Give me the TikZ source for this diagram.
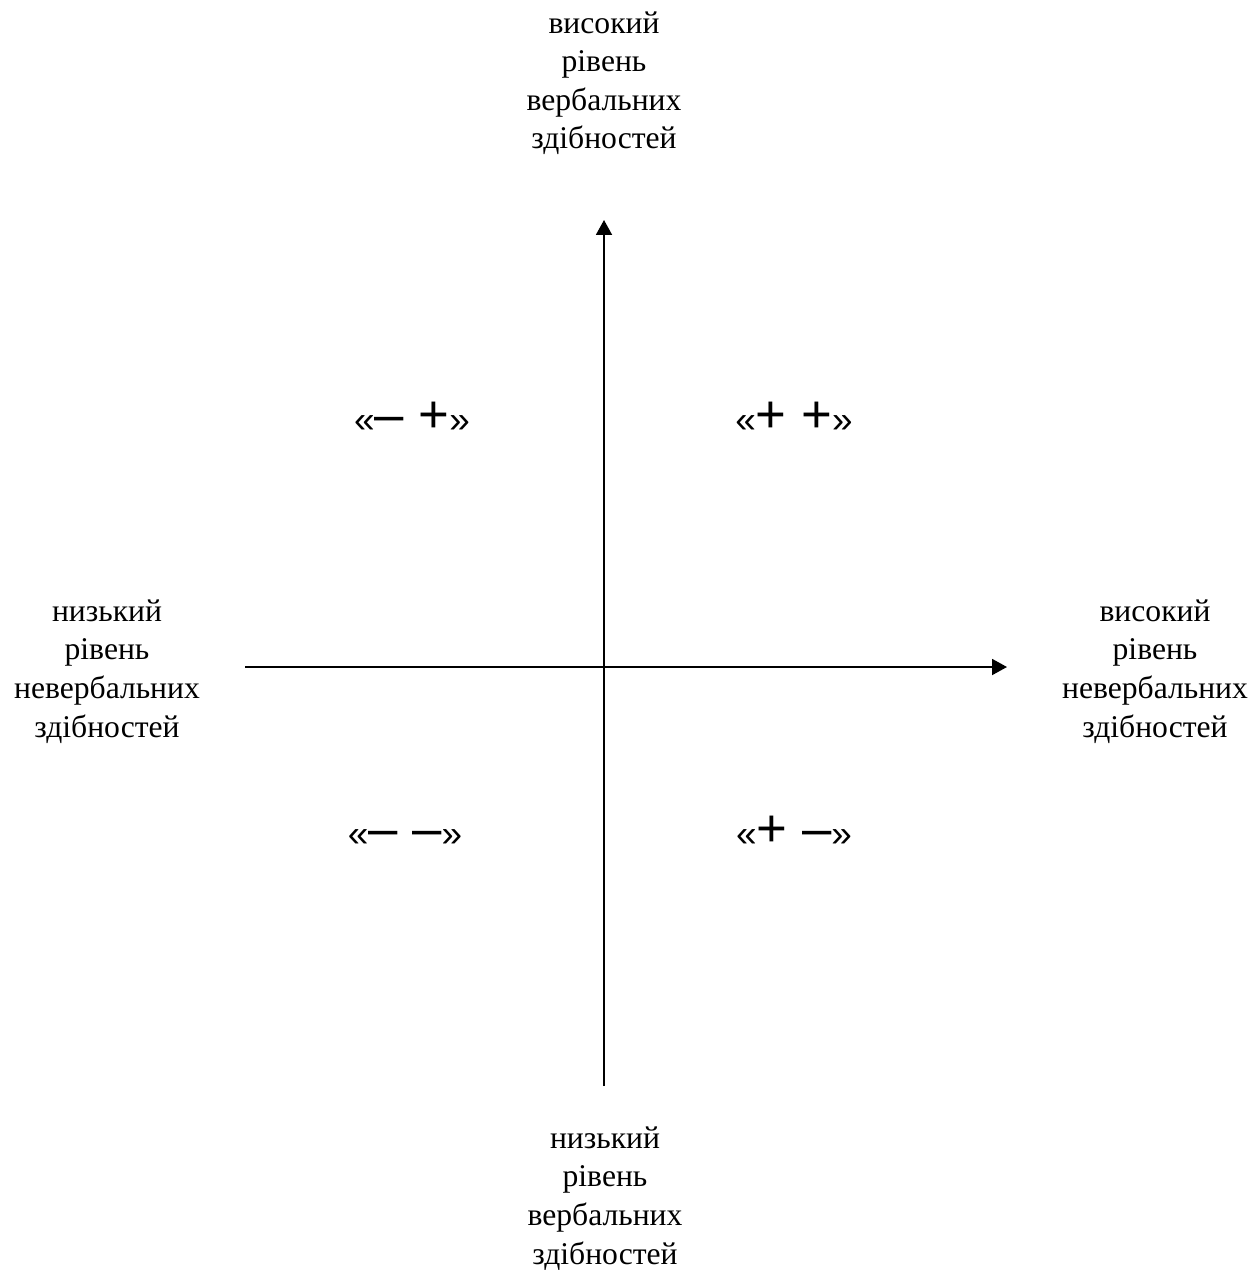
\documentclass[tikz,border=0pt]{standalone}
\usepackage{fontspec}
\setmainfont{Liberation Serif}
\newfontfamily\signfont{Liberation Sans}
\usepackage{tikz}
\usetikzlibrary{positioning}
\usetikzlibrary{arrows.meta}
\tikzset{axis label/.style={align=center,inner sep=0pt,anchor=base,font=\fontsize{18}{22}\selectfont},
	quad label/.style={inner sep=0pt,anchor=base,font=\signfont\fontsize{21}{22}\selectfont},}
\newcommand{\sgn}[1]{{\fontsize{30}{32}\selectfont #1}}

\begin{document}
\begin{tikzpicture}[x=0.02cm, y=-0.02cm, >={Triangle[length=0.3cm,width=0.32cm]}, line width=1.1pt]
	\useasboundingbox (0,0) rectangle (1259,1270);
	\coordinate (xl) at (245,667);
	\coordinate (xr) at (1007,667);
	\coordinate (yb) at (604,1086);
	\coordinate (yt) at (604,220);

	% last line sits on the given point
	\node[axis label] (top) at (604,149) {високий\\рівень\\вербальних\\здібностей};
	\node[axis label] (bottom) at (605,1264) {низький\\рівень\\вербальних\\здібностей};
	\node[axis label] (left) at (107,737) {низький\\рівень\\невербальних\\здібностей};
	\node[axis label] (right) at (1155,737) {високий\\рівень\\невербальних\\здібностей};

	\node[quad label] (mp) at (412,432) {«\sgn{– +}»};
	\node[quad label] (pp) at (794,432) {«\sgn{+ +}»};
	\node[quad label] (mm) at (405,846) {«\sgn{– –}»};
	\node[quad label] (pm) at (794,846) {«\sgn{+ –}»};

	\draw[->] (xl) -- (xr);
	\draw[->] (yb) -- (yt);
\end{tikzpicture}
\end{document}
